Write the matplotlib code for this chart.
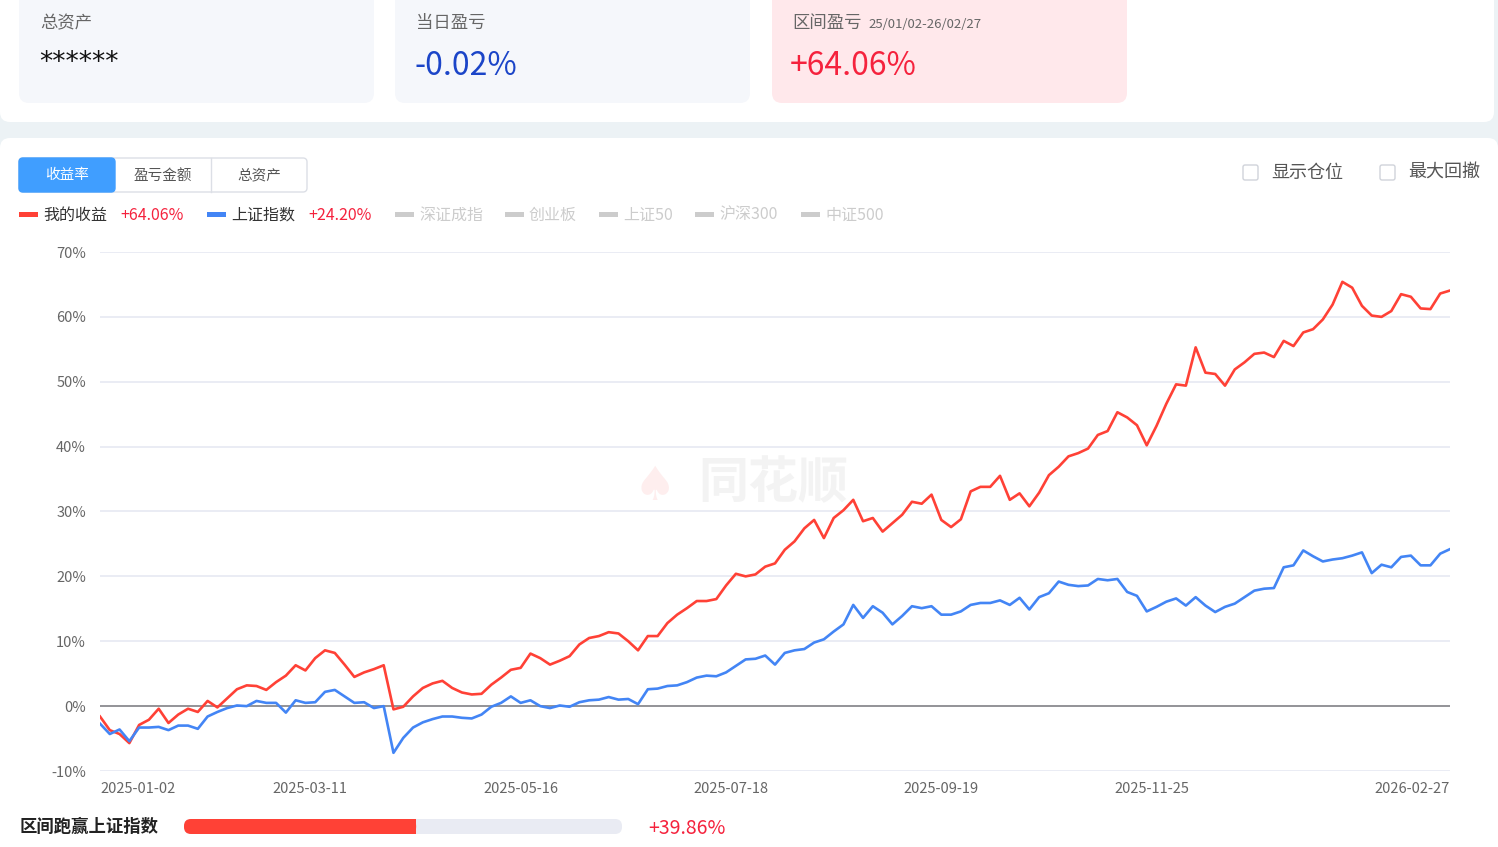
import matplotlib
matplotlib.use('Agg')
import matplotlib.pyplot as plt
from matplotlib.patches import Rectangle, FancyBboxPatch
import numpy as np

plt.rcParams['font.family'] = ['Noto Sans CJK SC', 'DejaVu Sans']

# ---- data (trading-day index, every 2nd day from 2025-01-02 to 2026-02-27) ----
day_idx = np.arange(0, 277, 2)

my_return = [
    -1.6, -3.7, -4.3, -5.7, -2.9, -2.1, -0.4, -2.6, -1.3, -0.4,
    -0.9, 0.8, -0.2, 1.2, 2.6, 3.2, 3.1, 2.5, 3.7, 4.7,
    6.3, 5.5, 7.4, 8.6, 8.2, 6.4, 4.5, 5.2, 5.7, 6.3,
    -0.5, -0.1, 1.5, 2.8, 3.5, 3.9, 2.8, 2.1, 1.8, 1.9,
    3.3, 4.4, 5.6, 5.9, 8.1, 7.4, 6.4, 7.0, 7.7, 9.5,
    10.5, 10.8, 11.4, 11.2, 10.0, 8.6, 10.8, 10.8, 12.8, 14.1,
    15.1, 16.2, 16.2, 16.5, 18.6, 20.4, 20.0, 20.3, 21.5, 22.0,
    24.1, 25.4, 27.4, 28.7, 25.9, 29.0, 30.2, 31.8, 28.5, 29.0,
    26.9, 28.2, 29.5, 31.5, 31.2, 32.6, 28.7, 27.6, 28.8, 33.1,
    33.8, 33.8, 35.5, 31.8, 32.8, 30.8, 32.9, 35.6, 36.9, 38.5,
    39.0, 39.7, 41.8, 42.4, 45.3, 44.5, 43.3, 40.2, 43.2, 46.6,
    49.6, 49.4, 55.3, 51.4, 51.2, 49.4, 51.9, 53.0, 54.3, 54.5,
    53.8, 56.3, 55.5, 57.6, 58.1, 59.6, 61.9, 65.4, 64.5, 61.7,
    60.2, 60.0, 60.9, 63.5, 63.1, 61.3, 61.2, 63.6, 64.06,
]

sh_index = [
    -2.7, -4.3, -3.6, -5.4, -3.3, -3.3, -3.2, -3.7, -3.0, -3.0,
    -3.5, -1.6, -0.9, -0.3, 0.1, 0.0, 0.8, 0.5, 0.5, -1.0,
    0.9, 0.5, 0.6, 2.2, 2.5, 1.5, 0.5, 0.6, -0.3, 0.0,
    -7.2, -4.9, -3.3, -2.5, -2.0, -1.6, -1.6, -1.8, -1.9, -1.3,
    -0.1, 0.5, 1.5, 0.5, 0.9, 0.0, -0.3, 0.1, -0.1, 0.6,
    0.9, 1.0, 1.4, 1.0, 1.1, 0.3, 2.6, 2.7, 3.1, 3.2,
    3.7, 4.4, 4.7, 4.6, 5.2, 6.2, 7.2, 7.3, 7.8, 6.4,
    8.2, 8.6, 8.8, 9.8, 10.3, 11.5, 12.6, 15.6, 13.6, 15.4,
    14.4, 12.6, 13.9, 15.4, 15.1, 15.4, 14.1, 14.1, 14.6, 15.6,
    15.9, 15.9, 16.3, 15.6, 16.7, 14.9, 16.8, 17.4, 19.2, 18.7,
    18.5, 18.6, 19.6, 19.4, 19.6, 17.6, 17.0, 14.6, 15.3, 16.1,
    16.6, 15.5, 16.8, 15.5, 14.5, 15.3, 15.8, 16.8, 17.8, 18.1,
    18.2, 21.4, 21.7, 24.0, 23.1, 22.3, 22.6, 22.8, 23.2, 23.7,
    20.5, 21.8, 21.4, 23.0, 23.2, 21.7, 21.7, 23.5, 24.2,
]

tick_days = [0, 43, 86, 129, 172, 215, 276]
tick_dates = ['2025-01-02', '2025-03-11', '2025-05-16', '2025-07-18',
              '2025-09-19', '2025-11-25', '2026-02-27']
y_ticks = [-10, 0, 10, 20, 30, 40, 50, 60, 70]

legend_names = ['我的收益', '上证指数', '深证成指', '创业板', '上证50', '沪深300', '中证500']
legend_values = ['+64.06%', '+24.20%', '', '', '', '', '']
tab_names = ['收益率', '盈亏金额', '总资产']
outperform = 39.86
bar_fill = 0.53

RED = '#FF4136'
BLUE = '#4385F5'
GRAY_TXT = '#666666'

W, H = 1498, 847
fig = plt.figure(figsize=(W / 100, H / 100), dpi=100)
fig.patch.set_facecolor('#ECF2F5')

bg = fig.add_axes([0, 0, 1, 1])
bg.set_xlim(0, W)
bg.set_ylim(H, 0)
bg.axis('off')

# top white panel
bg.add_patch(FancyBboxPatch((0, -30), 1494, 152, boxstyle='round,pad=0,rounding_size=10',
                            facecolor='white', edgecolor='none'))
# lower white panel
bg.add_patch(FancyBboxPatch((0, 138), 1498, 760, boxstyle='round,pad=0,rounding_size=10',
                            facecolor='white', edgecolor='none'))

# summary cards
cards = [(19, '#F5F7FB'), (395, '#F5F7FB'), (772, '#FFE8EB')]
for cx, fc in cards:
    bg.add_patch(FancyBboxPatch((cx, -20), 355, 123, boxstyle='round,pad=0,rounding_size=10',
                                facecolor=fc, edgecolor='none'))

bg.text(40, 23, '总资产', fontsize=12.5, color=GRAY_TXT, va='center')
bg.text(39, 63, '******', fontsize=19, color='#111111', va='center', family=['DejaVu Sans'])
bg.text(416, 23, '当日盈亏', fontsize=12.5, color=GRAY_TXT, va='center')
bg.text(414, 66, '-0.02%', fontsize=23, color='#1B45C8', va='center')
bg.text(792, 23, '区间盈亏', fontsize=12.5, color=GRAY_TXT, va='center')
bg.text(868, 24, '25/01/02-26/02/27', fontsize=9.5, color=GRAY_TXT, va='center')
bg.text(790, 66, '+64.06%', fontsize=23, color='#F5223D', va='center')

# tabs
bg.add_patch(FancyBboxPatch((19, 158), 288, 34, boxstyle='round,pad=0,rounding_size=4',
                            facecolor='white', edgecolor='#DCDFE6', linewidth=1))
bg.add_patch(FancyBboxPatch((19, 158), 96, 34, boxstyle='round,pad=0,rounding_size=4',
                            facecolor='#409EFF', edgecolor='#409EFF', linewidth=1))
bg.plot([211, 211], [158, 192], color='#DCDFE6', lw=1)
for i, name in enumerate(tab_names):
    bg.text(67 + i * 96, 175.5, name, fontsize=10.5, ha='center', va='center',
            color='white' if i == 0 else '#555555')

# checkboxes
for bx, label in [(1243, '显示仓位'), (1380, '最大回撤')]:
    bg.add_patch(FancyBboxPatch((bx, 165), 15, 15, boxstyle='round,pad=0,rounding_size=2',
                                facecolor='white', edgecolor='#D0D3DA', linewidth=1))
    bg.text(bx + 28, 173, label, fontsize=13, color='#555555', va='center')

# legend row
leg_x = [19, 207, 395, 505, 599, 695, 801]
leg_colors = [RED, BLUE, '#CCCCCC', '#CCCCCC', '#CCCCCC', '#CCCCCC', '#CCCCCC']
for i, name in enumerate(legend_names):
    lx = leg_x[i]
    bg.add_patch(Rectangle((lx, 212), 19, 5, facecolor=leg_colors[i], edgecolor='none'))
    tcol = '#333333' if i < 2 else '#CCCCCC'
    bg.text(lx + 24, 215, name, fontsize=11.5, color=tcol, va='center')
    if legend_values[i]:
        bg.text(lx + 101, 215, legend_values[i], fontsize=11.5, color='#F5223D', va='center')

# watermark
bg.text(698, 484, '同花顺', fontsize=36, color='#F3F3F3', va='center', fontweight='bold',
        style='italic', zorder=2)
bg.text(655, 488, '♠', fontsize=34, color='#FEEEEE', va='center', ha='center',
        family=['DejaVu Sans'], zorder=2)

# bottom bar
bg.text(20, 827, '区间跑赢上证指数', fontsize=12.5, color='#222222', va='center', fontweight='bold')
bg.add_patch(FancyBboxPatch((184, 819), 438, 15, boxstyle='round,pad=0,rounding_size=7',
                            facecolor='#E9EBF3', edgecolor='none'))
bg.add_patch(FancyBboxPatch((184, 819), 438 * bar_fill, 15, boxstyle='round,pad=0,rounding_size=7',
                            facecolor=RED, edgecolor='none'))
bg.add_patch(Rectangle((184 + 438 * bar_fill - 8, 819), 8, 15, facecolor=RED, edgecolor='none'))
bg.text(648, 829, f'+{outperform:.2f}%', fontsize=14, color='#F5223D', va='center')

# ---- main chart ----
ax = fig.add_axes([100 / W, (H - 771) / H, 1350 / W, (771 - 252) / H])
ax.set_facecolor('none')
ax.plot(day_idx, my_return, color=RED, lw=1.9, zorder=3, solid_joinstyle='round')
ax.plot(day_idx, sh_index, color=BLUE, lw=1.9, zorder=3, solid_joinstyle='round')
ax.set_xlim(0, 276)
ax.set_ylim(-10, 70)
for yv in y_ticks:
    if yv == 0:
        ax.axhline(0, color='#8A8A8F', lw=1.3, zorder=2)
    else:
        ax.axhline(yv, color='#E6E9F2', lw=1.2, zorder=1)
ax.set_yticks(y_ticks)
ax.set_yticklabels([f'{v}%' for v in y_ticks], fontsize=10.5, color=GRAY_TXT)
ax.set_xticks(tick_days)
ax.set_xticklabels(tick_dates, fontsize=10.5, color=GRAY_TXT)
xl = ax.get_xticklabels()
xl[0].set_ha('left')
xl[-1].set_ha('right')
ax.tick_params(length=0, pad=10)
ax.tick_params(axis='x', pad=8)
for s in ax.spines.values():
    s.set_visible(False)

fig.savefig('out.png', dpi=100, facecolor=fig.get_facecolor())
